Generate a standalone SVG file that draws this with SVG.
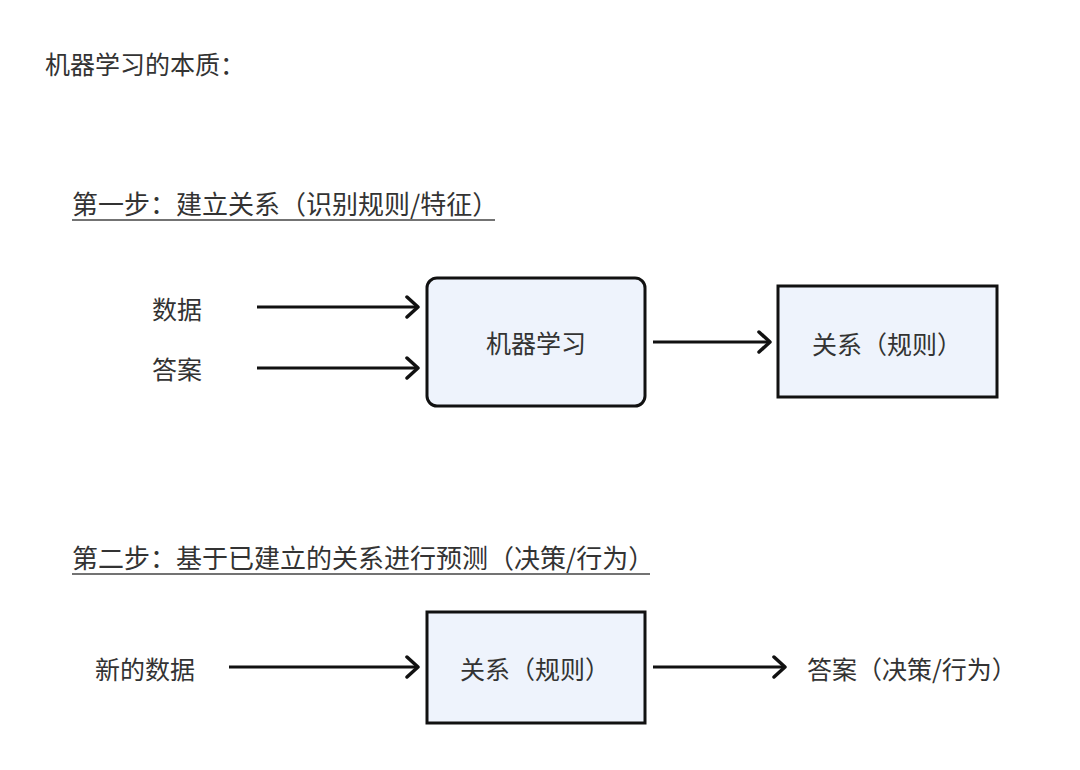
<svg xmlns="http://www.w3.org/2000/svg" width="1080" height="770" viewBox="0 0 1080 770">
<style>
text{font-family:"Noto Sans CJK SC","Noto Sans",sans-serif;font-size:25px;fill:#333;}
.h{font-size:26px;}
.box{fill:#eef3fc;stroke:#111;stroke-width:3;}
.conn{stroke:#111;stroke-width:3;fill:none;marker-end:url(#arr);}
.ul{stroke:#444;stroke-width:1.5;}
</style>
<defs>
<marker id="arr" markerUnits="userSpaceOnUse" markerWidth="18" markerHeight="26" refX="13" refY="12" orient="auto" viewBox="0 0 18 26">
<path d="M2,2 L13,12 L2,22" fill="none" stroke="#111" stroke-width="3.5" stroke-linecap="round" stroke-linejoin="round"/>
</marker>
</defs>
<rect width="1080" height="770" fill="#fff"/>
<text x="45" y="74">机器学习的本质：</text>
<g id="step1">
<text class="h" x="72" y="214">第一步：建立关系（识别规则/特征）</text>
<line class="ul" x1="72" y1="220" x2="495" y2="220"/>
</g>
<g id="step2">
<text class="h" x="72" y="568">第二步：基于已建立的关系进行预测（决策/行为）</text>
<line class="ul" x1="72" y1="574" x2="650" y2="574"/>
</g>
<g id="data"><text x="152" y="319">数据</text></g>
<g id="answer"><text x="152" y="379">答案</text></g>
<g id="ml">
<rect class="box" x="427" y="278" width="218" height="128" rx="10"/>
<text x="536" y="353" text-anchor="middle">机器学习</text>
</g>
<g id="rel1">
<rect class="box" x="778" y="286" width="219" height="111"/>
<text x="812" y="354">关系（规则）</text>
</g>
<g id="newdata"><text x="95" y="679">新的数据</text></g>
<g id="rel2">
<rect class="box" x="427" y="612" width="218" height="111"/>
<text x="460" y="679">关系（规则）</text>
</g>
<g id="result"><text x="807" y="679">答案（决策/行为）</text></g>
<g id="connectors">
<line class="conn" x1="257" y1="307" x2="418" y2="307"/>
<line class="conn" x1="257" y1="368" x2="418" y2="368"/>
<line class="conn" x1="653" y1="342" x2="770" y2="342"/>
<line class="conn" x1="229" y1="667" x2="418" y2="667"/>
<line class="conn" x1="653" y1="667" x2="785" y2="667"/>
</g>
</svg>
